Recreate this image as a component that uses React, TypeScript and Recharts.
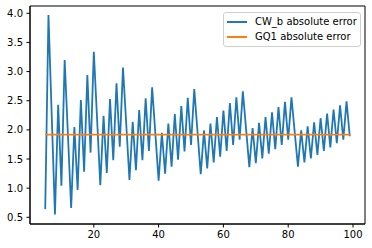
import { LineChart, Line, XAxis, YAxis, ReferenceArea, Legend } from 'recharts';

// vertices of the CW_b curve (n, absolute error)
const cwN = [
	5, 6, 8, 9, 10, 11, 13, 14, 15, 16, 17, 18, 19, 20, 22, 23, 24, 25, 26, 27,
	28, 29, 31, 32, 33, 34, 35, 36, 37, 38, 40, 41, 42, 43, 44, 45, 46, 47, 48,
	49, 50, 51, 53, 54, 55, 56, 57, 58, 59, 60, 61, 62, 63, 64, 65, 66, 68, 69,
	70, 71, 72, 73, 74, 75, 76, 77, 78, 79, 80, 81, 83, 84, 85, 86, 87, 88, 89,
	90, 91, 92, 93, 94, 95, 96, 97, 98, 99,
];
const cwErr = [
	0.64, 3.97, 0.55, 2.43, 1.04, 3.2, 0.66, 2.05, 0.97, 2.51, 1.28, 2.94, 1.61,
	3.34, 1.05, 2.24, 1.26, 2.53, 1.48, 2.8, 1.71, 3.07, 1.14, 2.14, 1.31, 2.34,
	1.48, 2.54, 1.64, 2.73, 1.13, 1.95, 1.25, 2.11, 1.37, 2.27, 1.49, 2.41, 1.63,
	2.55, 1.74, 2.7, 1.24, 1.99, 1.34, 2.11, 1.44, 2.22, 1.54, 2.33, 1.64, 2.46,
	1.74, 2.56, 1.83, 2.66, 1.36, 2.03, 1.43, 2.12, 1.51, 2.22, 1.59, 2.3, 1.67,
	2.39, 1.74, 2.48, 1.83, 2.56, 1.37, 1.99, 1.44, 2.06, 1.51, 2.13, 1.57, 2.2,
	1.64, 2.28, 1.7, 2.35, 1.77, 2.42, 1.83, 2.49, 1.89,
];

// GQ1 error is flat
const gqN = [5, 99];
const gqErr = [1.917, 1.917];

const xTicks = [20, 40, 60, 80, 100];
const yTicks = [0.5, 1.0, 1.5, 2.0, 2.5, 3.0, 3.5, 4.0];

const cwData = cwN.map((n, i) => ({ n, err: cwErr[i] }));
const gqData = gqN.map((n, i) => ({ n, err: gqErr[i] }));

const X_DOMAIN: [number, number] = [0.3, 103.7];
const Y_DOMAIN: [number, number] = [0.385, 4.125];

const FONT = '"DejaVu Sans", sans-serif';

const renderLegend = (props: any) => {
	const { payload } = props;
	return (
		<div
			style={{
				boxSizing: 'border-box',
				width: 138,
				border: '1px solid #d0d0d0',
				borderRadius: 3,
				background: 'rgba(255,255,255,0.8)',
				padding: '1px 3px 2px 3px',
				fontFamily: FONT,
				fontSize: 10,
				color: '#000',
			}}>
			{payload.map((entry: any) => (
				<div
					key={entry.value}
					style={{ display: 'flex', alignItems: 'center', height: 15 }}>
					<span
						style={{
							display: 'inline-block',
							width: 20,
							height: 0,
							borderTop: `2px solid ${entry.color}`,
							marginRight: 8,
						}}
					/>
					<span>{entry.value}</span>
				</div>
			))}
		</div>
	);
};

export default function App() {
	return (
		<div style={{ position: 'absolute', left: 0, top: 0, width: 372, height: 248, background: '#fff' }}>
			<LineChart
				width={372}
				height={248}
				margin={{ top: 6, right: 7, left: 0, bottom: 0 }}>
				<XAxis
					dataKey='n'
					type='number'
					domain={X_DOMAIN}
					ticks={xTicks}
					allowDataOverflow
					height={24}
					tickSize={3.5}
					tickMargin={3.5}
					stroke='#000'
					tick={{ fill: '#000', fontSize: 10, fontFamily: FONT }}
				/>
				<YAxis
					type='number'
					domain={Y_DOMAIN}
					ticks={yTicks}
					allowDataOverflow
					width={30}
					tickSize={3.5}
					tickMargin={3.5}
					stroke='#000'
					tickFormatter={(v: number) => v.toFixed(1)}
					tick={{ fill: '#000', fontSize: 10, fontFamily: FONT }}
				/>
				<ReferenceArea
					x1={X_DOMAIN[0]}
					x2={X_DOMAIN[1]}
					y1={Y_DOMAIN[0]}
					y2={Y_DOMAIN[1]}
					fill='none'
					stroke='#000'
					strokeWidth={1}
				/>
				<Line
					data={cwData}
					dataKey='err'
					name='CW_b absolute error'
					stroke='#1f77b4'
					strokeWidth={1.8}
					dot={false}
					isAnimationActive={false}
				/>
				<Line
					data={gqData}
					dataKey='err'
					name='GQ1 absolute error'
					stroke='#ff7f0e'
					strokeWidth={1.8}
					dot={false}
					isAnimationActive={false}
				/>
				<Legend
					layout='horizontal'
					verticalAlign='middle'
					align='center'
					content={renderLegend}
					wrapperStyle={{ top: 12, left: 223, width: 138, height: 34 }}
				/>
			</LineChart>
		</div>
	);
}
